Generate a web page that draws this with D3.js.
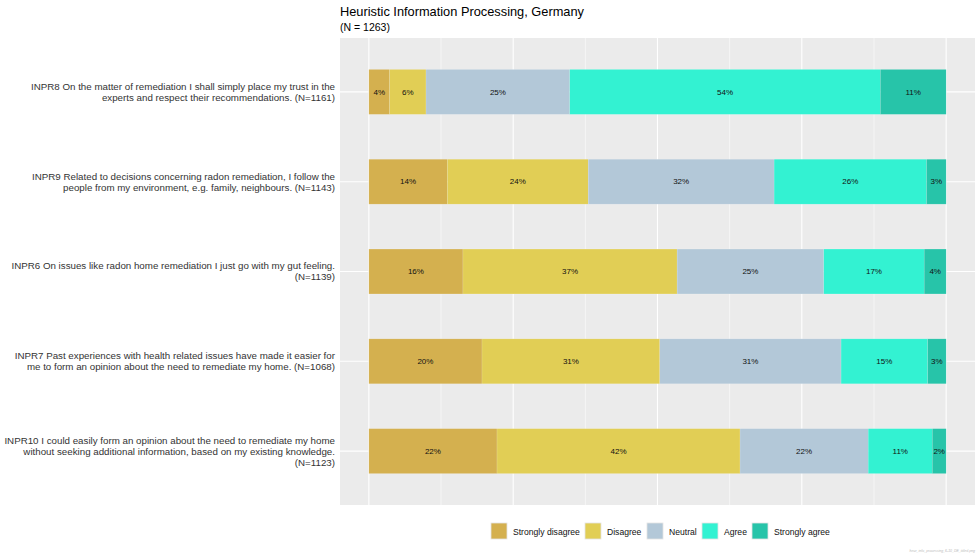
<!DOCTYPE html>
<html><head><meta charset="utf-8">
<script src="https://cdn.jsdelivr.net/npm/d3@7"></script>
<style>body{margin:0;background:#fff;font-family:"Liberation Sans",Arial,sans-serif;}</style>
</head><body><svg id="c" width="980" height="560"></svg>
<script>
const categories = [
  ["INPR8 On the matter of remediation I shall simply place my trust in the", "experts and respect their recommendations. (N=1161)"],
  ["INPR9 Related to decisions concerning radon remediation, I follow the", "people from my environment, e.g. family, neighbours. (N=1143)"],
  ["INPR6 On issues like radon home remediation I just go with my gut feeling.", "(N=1139)"],
  ["INPR7 Past experiences with health related issues have made it easier for", "me to form an opinion about the need to remediate my home. (N=1068)"],
  ["INPR10 I could easily form an opinion about the need to remediate my home", "without seeking additional information, based on my existing knowledge.", "(N=1123)"]
];
const levels = ["Strongly disagree","Disagree","Neutral","Agree","Strongly agree"];
const colors = ["#D4B04F","#E1CE55","#B3C8D8","#33F2D2","#27C4A9"];
const stronglyDisagree = [3.6, 13.6, 16.3, 19.6, 22.2];
const disagree         = [6.3, 24.4, 37.1, 30.8, 42.1];
const neutral          = [24.9, 32.2, 25.4, 31.4, 22.2];
const agree            = [53.8, 26.4, 17.4, 15.0, 11.1];
const stronglyAgree    = [11.4, 3.4, 3.8, 3.2, 2.4];
const xTicksMajor = [0,25,50,75,100];
const xTicksMinor = [12.5,37.5,62.5,87.5];
const title = "Heuristic Information Processing, Germany";
const subtitle = "(N = 1263)";
const footnote = "heur_info_processing_6-10_DE_titled.png";

const series = [stronglyDisagree, disagree, neutral, agree, stronglyAgree];
const svg = d3.select("#c");
const P = {l:340, r:975, t:38, b:505};

const x = d3.scaleLinear().domain([-5,105]).range([P.l,P.r]);
const y = d3.scaleLinear().domain([0.4,5.6]).range([P.t,P.b]);

svg.append("rect").attr("x",P.l).attr("y",P.t).attr("width",P.r-P.l).attr("height",P.b-P.t).attr("fill","#EBEBEB");
// grid
svg.selectAll(".gmin").data(xTicksMinor).enter().append("line")
  .attr("x1",d=>x(d)).attr("x2",d=>x(d)).attr("y1",P.t).attr("y2",P.b)
  .attr("stroke","#fff").attr("stroke-width",0.55);
svg.selectAll(".gmaj").data(xTicksMajor).enter().append("line")
  .attr("x1",d=>x(d)).attr("x2",d=>x(d)).attr("y1",P.t).attr("y2",P.b)
  .attr("stroke","#fff").attr("stroke-width",1.1);
svg.selectAll(".gy").data(categories.map((c,i)=>i+1)).enter().append("line")
  .attr("x1",P.l).attr("x2",P.r).attr("y1",d=>y(d)).attr("y2",d=>y(d))
  .attr("stroke","#fff").attr("stroke-width",1.1);

// stacked bars
const stackData = categories.map((c,i)=>{
  const o = {i:i}; levels.forEach((l,j)=>o[l]=series[j][i]); return o;
});
const stacked = d3.stack().keys(levels)(stackData);
const bw = 0.5;
stacked.forEach((layer,j)=>{
  const g = svg.append("g");
  g.selectAll("rect").data(layer).enter().append("rect")
    .attr("x",d=>x(d[0])).attr("width",d=>x(d[1])-x(d[0]))
    .attr("y",d=>y(d.data.i+1-bw/2)).attr("height",d=>y(d.data.i+1+bw/2)-y(d.data.i+1-bw/2))
    .attr("fill",colors[j]).attr("stroke","rgba(255,255,255,0.25)").attr("stroke-width",0.5);
  g.selectAll("text").data(layer).enter().append("text")
    .attr("x",d=>x((d[0]+d[1])/2)).attr("y",d=>y(d.data.i+1)).attr("dy","0.35em")
    .attr("text-anchor","middle").attr("font-size","8px").attr("fill","#111")
    .text(d=>Math.round(d[1]-d[0])+"%");
});

// y labels
categories.forEach((lines,i)=>{
  const lh = 11;
  const t = svg.append("text").attr("text-anchor","end").attr("font-size","9.75px").attr("fill","#333");
  const y0 = y(i+1) - (lines.length-1)*lh/2;
  lines.forEach((ln,k)=>{
    t.append("tspan").attr("x",335).attr("y",y0+k*lh).attr("dy","0.35em").text(ln);
  });
});

// title
svg.append("text").attr("x",P.l).attr("y",16).attr("font-size","12.8px").attr("fill","#000").text(title);
svg.append("text").attr("x",P.l).attr("y",31).attr("font-size","10.5px").attr("fill","#000").text(subtitle);

// legend
const legX = [491,585,647,702,752];
levels.forEach((l,j)=>{
  svg.append("rect").attr("x",legX[j]).attr("y",523).attr("width",16).attr("height",16)
    .attr("fill",colors[j]).attr("stroke","#E4E4E4").attr("stroke-width",0.8);
  svg.append("text").attr("x",legX[j]+22).attr("y",531.5).attr("dy","0.35em")
    .attr("font-size","8.6px").attr("fill","#111").text(l);
});
svg.append("text").attr("x",975).attr("y",552).attr("text-anchor","end")
  .attr("font-size","3.5px").attr("fill","#bbb").attr("font-style","italic").text(footnote);
</script></body></html>
